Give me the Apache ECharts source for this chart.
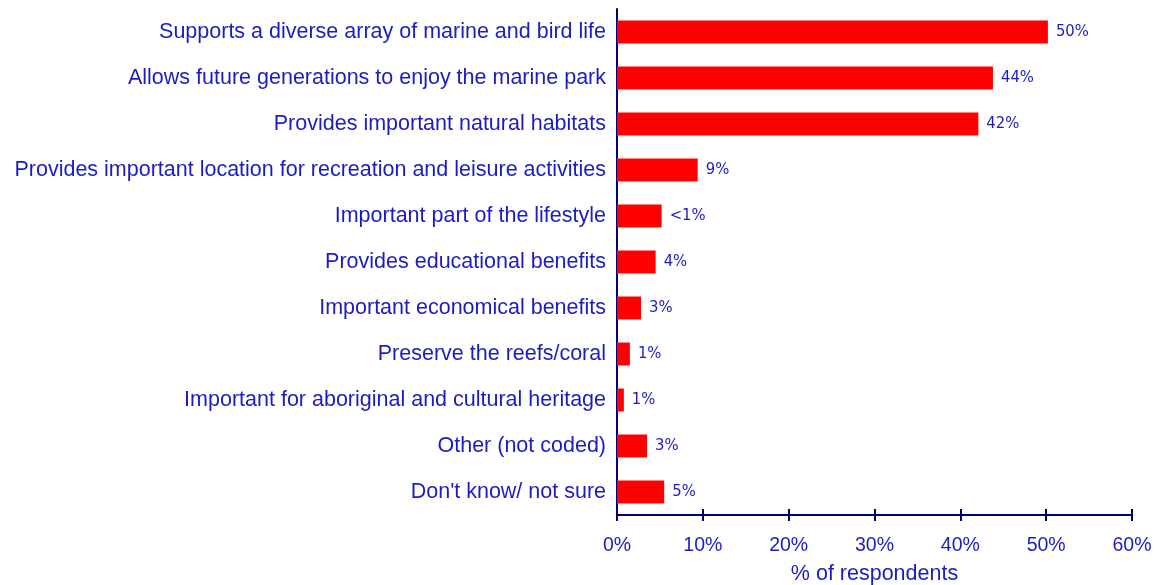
<!DOCTYPE html>
<html><head><meta charset="utf-8">
<script src="https://cdn.jsdelivr.net/npm/echarts@6/dist/echarts.min.js"></script>
<style>html,body{margin:0;padding:0;background:#fff}#c{width:1156px;height:585px}</style>
</head><body><div id="c"></div>
<script>
const categories = [
  "Supports a diverse array of marine and bird life",
  "Allows future generations to enjoy the marine park",
  "Provides important natural habitats",
  "Provides important location for recreation and leisure activities",
  "Important part of the lifestyle",
  "Provides educational benefits",
  "Important economical benefits",
  "Preserve the reefs/coral",
  "Important for aboriginal and cultural heritage",
  "Other (not coded)",
  "Don't know/ not sure"
];
const values = [50.2, 43.8, 42.1, 9.4, 5.2, 4.5, 2.8, 1.5, 0.8, 3.5, 5.5];
const valueLabels = ["50%", "44%", "42%", "9%", "<1%", "4%", "3%", "1%", "1%", "3%", "5%"];
const xTicks = [0, 10, 20, 30, 40, 50, 60];

const blue = '#1c1cc4';
const navy = '#000070';
const font = 'Liberation Sans, Arial, sans-serif';
const chart = echarts.init(document.getElementById('c'));
const cats = categories.slice().reverse();
const vals = values.slice().reverse();
const labs = valueLabels.slice().reverse();
const xBase = {
  type: 'value', min: xTicks[0], max: xTicks[xTicks.length-1], interval: 10,
  splitLine: {show: false}
};
chart.setOption({
  animation: false,
  grid: {left: 617, right: 24, top: 9, bottom: 70, containLabel: false, outerBoundsMode: 'none'},
  xAxis: [
    Object.assign({}, xBase, {
      position: 'bottom',
      axisLine: {show: true, lineStyle: {color: navy, width: 2}},
      axisTick: {show: true, length: 6, lineStyle: {color: navy, width: 2}},
      axisLabel: {color: blue, fontSize: 19.5, fontFamily: font, formatter: v => v + '%', margin: 21},
      name: '% of respondents', nameLocation: 'middle', nameGap: 48,
      nameTextStyle: {color: blue, fontSize: 21.5, fontFamily: font}
    }),
    Object.assign({}, xBase, {
      position: 'bottom', gridIndex: 0,
      axisLine: {show: false},
      axisTick: {show: true, inside: true, length: 6, lineStyle: {color: navy, width: 2}},
      axisLabel: {show: false}
    })
  ],
  yAxis: {
    type: 'category', data: cats,
    axisLine: {show: true, lineStyle: {color: navy, width: 2}},
    axisTick: {show: false},
    axisLabel: {color: blue, fontSize: 21.5, fontFamily: font, margin: 11}
  },
  series: [{
    type: 'bar', data: vals, barWidth: '50%', xAxisIndex: 0,
    itemStyle: {color: '#ff0000'},
    label: {show: true, position: 'right', distance: 8, color: blue, fontSize: 16.5,
      fontFamily: 'Liberation Sans Narrow, Arial Narrow, DejaVu Sans Condensed, sans-serif',
      formatter: p => labs[p.dataIndex]}
  }]
});
</script></body></html>
